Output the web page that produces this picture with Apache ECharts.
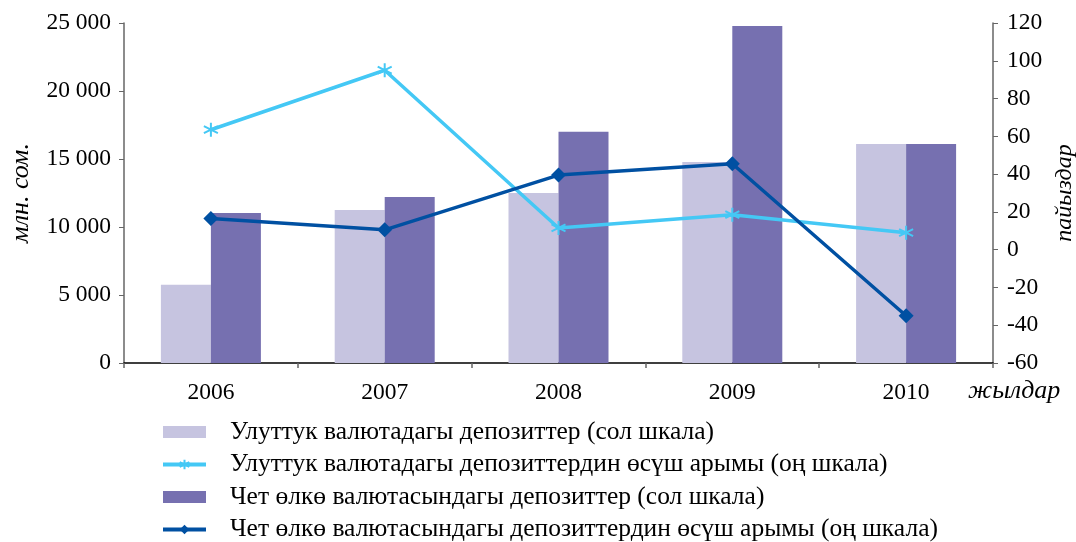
<!DOCTYPE html>
<html>
<head>
<meta charset="utf-8">
<script src="https://cdn.jsdelivr.net/npm/echarts@6/dist/echarts.min.js"></script>
<style>
  html, body { margin: 0; padding: 0; background: #fff; }
  #chart { width: 1076px; height: 542px; }
</style>
</head>
<body>
<div id="chart"></div>
<script>
// годы
const years = ['2006', '2007', '2008', '2009', '2010']
// депозиттер, млн. сом (сол шкала)
const nationalDeposits = [5750, 11250, 12500, 14780, 16100]
const foreignDeposits = [11030, 12200, 17000, 24780, 16100]
// өсүш арымы, % (оң шкала)
const nationalGrowth = [63.5, 95, 11.5, 18.5, 9]
const foreignGrowth = [16.5, 10.5, 39.5, 45.5, -35]

const names = [
  'Улуттук валютадагы депозиттер (сол шкала)',
  'Улуттук валютадагы депозиттердин өсүш арымы (оң шкала)',
  'Чет өлкө валютасындагы депозиттер (сол шкала)',
  'Чет өлкө валютасындагы депозиттердин өсүш арымы (оң шкала)'
]

const serif = '"Liberation Serif", "DejaVu Serif", serif'
const starIcon = 'path://M0,-10L0,10M-8.66,-5L8.66,5M-8.66,5L8.66,-5'

const chart = echarts.init(document.getElementById('chart'))

const option = {
  animation: false,
  backgroundColor: '#fff',
  textStyle: { fontFamily: serif, color: '#000' },
  grid: { left: 124, right: 83, top: 23, bottom: 179, containLabel: false, outerBoundsMode: 'none' },
  legend: {
    orient: 'vertical',
    left: 161,
    top: 419,
    height: 140,
    padding: 0,
    itemWidth: 43,
    itemHeight: 12,
    itemGap: 6.5,
    // прямоугольные значки для столбцов
    data: names.map((n, i) => (i % 2 === 0 ? { name: n, icon: 'rect' } : { name: n })),
    lineStyle: { width: 4 },
    textStyle: { fontFamily: serif, fontSize: 25.5, color: '#000', padding: [0, 0, 0, 19] }
  },
  xAxis: {
    type: 'category',
    data: years,
    boundaryGap: true,
    axisLine: { lineStyle: { color: '#000', width: 1.5 } },
    axisTick: { show: true, length: 5, lineStyle: { color: '#666', width: 1.5 } },
    axisLabel: { fontSize: 23.5, color: '#000', margin: 18, fontFamily: serif }
  },
  yAxis: [
    {
      type: 'value',
      min: 0,
      max: 25000,
      interval: 5000,
      name: 'млн. сом.',
      nameLocation: 'middle',
      nameGap: 90,
      nameTextStyle: { fontFamily: serif, fontStyle: 'italic', fontSize: 26, color: '#000' },
      axisLine: { show: true, lineStyle: { color: '#666', width: 1.5 } },
      axisTick: { show: true, length: 5, lineStyle: { color: '#666' } },
      axisLabel: {
        fontSize: 23.5,
        color: '#000',
        margin: 13,
        fontFamily: serif,
        formatter: v => String(v).replace(/\B(?=(\d{3})+(?!\d))/g, ' ')
      },
      splitLine: { show: false }
    },
    {
      type: 'value',
      min: -60,
      max: 120,
      interval: 20,
      position: 'right',
      name: 'пайыздар',
      nameLocation: 'middle',
      nameGap: 59,
      nameTextStyle: { fontFamily: serif, fontStyle: 'italic', fontSize: 24, color: '#000' },
      axisLine: { show: true, lineStyle: { color: '#666', width: 1.5 } },
      axisTick: { show: true, length: 5, lineStyle: { color: '#666' } },
      axisLabel: { fontSize: 23.5, color: '#000', margin: 14, fontFamily: serif },
      splitLine: { show: false }
    }
  ],
  graphic: [
    {
      type: 'text',
      left: 968,
      top: 378,
      style: {
        text: 'жылдар',
        font: 'italic 26px ' + serif,
        fill: '#000'
      }
    }
  ],
  series: [
    {
      name: names[0],
      type: 'bar',
      data: nationalDeposits,
      barWidth: 50,
      barGap: '0%',
      itemStyle: { color: '#c6c4e0' }
    },
    {
      name: names[2],
      type: 'bar',
      data: foreignDeposits,
      barWidth: 50,
      barGap: '0%',
      itemStyle: { color: '#7670b0' }
    },
    {
      name: names[1],
      type: 'line',
      yAxisIndex: 1,
      data: nationalGrowth,
      symbol: starIcon,
      symbolSize: 14,
      z: 5,
      lineStyle: { color: '#44c8f5', width: 3.5 },
      itemStyle: { color: '#44c8f5', borderColor: '#44c8f5', borderWidth: 2 }
    },
    {
      name: names[3],
      type: 'line',
      yAxisIndex: 1,
      data: foreignGrowth,
      symbol: 'diamond',
      symbolSize: 15,
      z: 6,
      lineStyle: { color: '#0050a2', width: 3.5 },
      itemStyle: { color: '#0050a2' }
    }
  ]
}

chart.setOption(option)
</script>
</body>
</html>
